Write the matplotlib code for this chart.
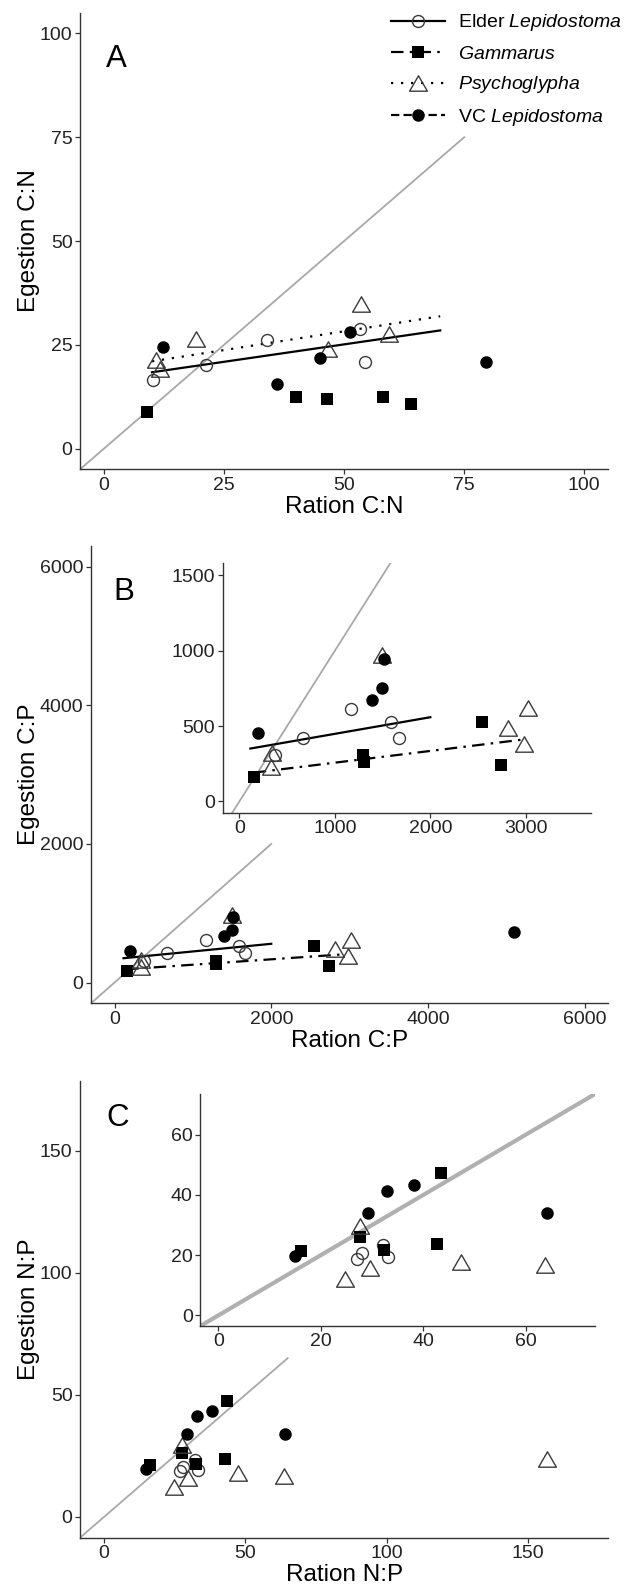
import matplotlib
matplotlib.use("Agg")
import matplotlib.pyplot as plt
from matplotlib.lines import Line2D
from matplotlib.path import Path
import numpy as np

plt.rcParams["font.family"] = ["Liberation Sans", "DejaVu Sans"]
plt.rcParams["mathtext.fontset"] = "custom"
plt.rcParams["mathtext.rm"] = "Liberation Sans"
plt.rcParams["mathtext.it"] = "Liberation Sans:italic"
plt.rcParams["lines.scale_dashes"] = False

# Datos
# Panel A: C:N
elder_cn_x = [10.1, 21.2, 34.0, 53.4, 54.4]
elder_cn_y = [16.5, 20.1, 26.1, 28.9, 20.9]
gam_cn_x = [9.0, 40.0, 46.4, 58.1, 63.9]
gam_cn_y = [8.7, 12.5, 11.9, 12.4, 10.7]
psy_cn_x = [10.9, 11.7, 19.2, 46.6, 53.6, 59.3]
psy_cn_y = [21.3, 19.1, 26.5, 24.1, 34.9, 27.6]
vc_cn_x = [12.3, 36.0, 45.0, 51.3, 79.5]
vc_cn_y = [24.4, 15.5, 21.7, 28.1, 20.9]

# Panel B: C:P
elder_cp_x = [377, 664, 1171, 1583, 1670]
elder_cp_y = [311, 421, 610, 524, 424]
gam_cp_x = [157, 1290, 1300, 2544, 2736]
gam_cp_y = [162, 305, 260, 528, 240]
psy_cp_x = [343, 332, 1496, 2813, 2980, 3022]
psy_cp_y = [318, 228, 972, 484, 380, 617]
vc_cp_x = [196, 1391, 1496, 1513, 5092]
vc_cp_y = [455, 672, 755, 943, 729]

# Panel C: N:P
elder_np_x = [27.0, 28.1, 32.1, 33.1]
elder_np_y = [18.8, 20.6, 23.3, 19.3]
gam_np_x = [16.2, 27.7, 32.4, 42.7, 43.5]
gam_np_y = [21.3, 26.1, 21.6, 23.8, 47.3]
psy_np_x = [24.8, 27.7, 29.6, 47.3, 63.7, 156.7]
psy_np_y = [12.2, 29.6, 15.8, 17.8, 16.6, 23.9]
vc_np_x = [15.0, 29.2, 32.9, 38.1, 64.1]
vc_np_y = [19.7, 34.1, 41.2, 43.2, 34.1]

# Rectas ajustadas (intercepto, pendiente, rango x)
fit_cn_elder = (16.7, 0.168, [10, 70])
fit_cn_psy = (19.2, 0.181, [10, 70])
fit_cp_elder = (338, 0.1103, [115, 2000])
fit_cp_gam = (179, 0.0779, [150, 2950])

# Limite de la linea 1:1 en los paneles principales
one_to_one_cn = 75
one_to_one_cp = 2000
one_to_one_np = 65

species = ["Elder $\\it{Lepidostoma}$", "$\\it{Gammarus}$", "$\\it{Psychoglypha}$", "VC $\\it{Lepidostoma}$"]

tri = Path([(-1, -0.866), (1, -0.866), (0, 0.866), (-1, -0.866)], closed=True)
edge = "#3a3a3a"
st_elder = dict(marker="o", ms=8.6, mfc="none", mec=edge, mew=1.0)
st_gam = dict(marker="s", ms=9.3, mfc="black", mec="black", mew=0)
st_psy = dict(marker=tri, ms=12.8, mfc="none", mec=edge, mew=1.0)
st_vc = dict(marker="o", ms=9.0, mfc="black", mec="black", mew=0)

ls_elder = "-"
ls_gam = (0, (9, 4.5, 1.8, 4.5))
ls_psy = (0, (1.6, 5.6))
ls_vc = (0, (6, 3))

grey = "#a8a8a8"
axcol = "#333333"

fig = plt.figure(figsize=(6.34, 15.92), dpi=100)


def style(ax, xlim, ylim, xticks, yticks):
    ax.set_xlim(xlim)
    ax.set_ylim(ylim)
    ax.set_xticks(xticks)
    ax.set_yticks(yticks)
    for s in ["top", "right"]:
        ax.spines[s].set_visible(False)
    for s in ["left", "bottom"]:
        ax.spines[s].set_linewidth(1.0)
        ax.spines[s].set_color(axcol)
    ax.tick_params(length=3.4, width=0.9, color=axcol, labelsize=14, labelcolor="#222222", pad=2)
    ax.patch.set_alpha(0)


def puntos(ax, xs, ys, st):
    ax.plot(xs, ys, linestyle="none", zorder=4, **st)


def recta(ax, fit, ls):
    b0, b1, xr = fit
    xr = np.array(xr, dtype=float)
    ax.plot(xr, b0 + b1 * xr, color="black", lw=1.6, linestyle=ls, zorder=3)


# ---------------- Panel A ----------------
axA = fig.add_axes([0.12618, 0.70521, 0.83328, 0.28681])
style(axA, (-5, 105), (-5, 105), [0, 25, 50, 75, 100], [0, 25, 50, 75, 100])
axA.plot([-5, one_to_one_cn], [-5, one_to_one_cn], color=grey, lw=1.3, zorder=1)
recta(axA, fit_cn_elder, ls_elder)
recta(axA, fit_cn_psy, ls_psy)
puntos(axA, elder_cn_x, elder_cn_y, st_elder)
puntos(axA, gam_cn_x, gam_cn_y, st_gam)
puntos(axA, psy_cn_x, psy_cn_y, st_psy)
puntos(axA, vc_cn_x, vc_cn_y, st_vc)
axA.set_xlabel("Ration C:N", fontsize=17.5, va="top")
axA.set_ylabel("Egestion C:N", fontsize=17.5)
axA.xaxis.set_label_coords(0.5, -0.0585)
axA.yaxis.set_label_coords(-0.0753, 0.5)
axA.text(0.0492, 0.8817, "A", transform=axA.transAxes, fontsize=22.5, ha="left", va="baseline")

# ---------------- Panel B ----------------
axB = fig.add_axes([0.14353, 0.36979, 0.81593, 0.28725])
style(axB, (-300, 6300), (-300, 6300), [0, 2000, 4000, 6000], [0, 2000, 4000, 6000])
axB.plot([-300, one_to_one_cp], [-300, one_to_one_cp], color=grey, lw=1.3, zorder=1)
recta(axB, fit_cp_elder, ls_elder)
recta(axB, fit_cp_gam, ls_gam)
puntos(axB, elder_cp_x, elder_cp_y, st_elder)
puntos(axB, gam_cp_x, gam_cp_y, st_gam)
puntos(axB, psy_cp_x, psy_cp_y, st_psy)
puntos(axB, vc_cp_x, vc_cp_y, st_vc)
axB.set_xlabel("Ration C:P", fontsize=17.5, va="top")
axB.set_ylabel("Egestion C:P", fontsize=17.5)
axB.xaxis.set_label_coords(0.5, -0.0584)
axB.yaxis.set_label_coords(-0.0982, 0.5)
axB.text(0.0431, 0.8819, "B", transform=axB.transAxes, fontsize=22.5, ha="left", va="baseline")

# recuadro B
axBi = fig.add_axes([0.35126, 0.48951, 0.58044, 0.15666])
style(axBi, (-175, 3680), (-75, 1580), [0, 1000, 2000, 3000], [0, 500, 1000, 1500])
axBi.plot([-200, 1700], [-200, 1700], color=grey, lw=1.3, zorder=1)
recta(axBi, fit_cp_elder, ls_elder)
recta(axBi, fit_cp_gam, ls_gam)
puntos(axBi, elder_cp_x, elder_cp_y, st_elder)
puntos(axBi, gam_cp_x, gam_cp_y, st_gam)
puntos(axBi, psy_cp_x, psy_cp_y, st_psy)
puntos(axBi, vc_cp_x, vc_cp_y, st_vc)

# ---------------- Panel C ----------------
axC = fig.add_axes([0.12618, 0.03411, 0.83328, 0.28687])
style(axC, (-8.5, 178.5), (-8.5, 178.5), [0, 50, 100, 150], [0, 50, 100, 150])
axC.plot([-8.5, one_to_one_np], [-8.5, one_to_one_np], color=grey, lw=1.3, zorder=1)
puntos(axC, elder_np_x, elder_np_y, st_elder)
puntos(axC, gam_np_x, gam_np_y, st_gam)
puntos(axC, psy_np_x, psy_np_y, st_psy)
puntos(axC, vc_np_x, vc_np_y, st_vc)
axC.set_xlabel("Ration N:P", fontsize=17.5, va="top")
axC.set_ylabel("Egestion N:P", fontsize=17.5)
axC.xaxis.set_label_coords(0.5, -0.0585)
axC.yaxis.set_label_coords(-0.0753, 0.5)
axC.text(0.0492, 0.9004, "C", transform=axC.transAxes, fontsize=22.5, ha="left", va="baseline")

# recuadro C
axCi = fig.add_axes([0.31593, 0.16709, 0.62256, 0.14573])
style(axCi, (-3.5, 73.5), (-3.5, 73.5), [0, 20, 40, 60], [0, 20, 40, 60])
axCi.plot([-5, 80], [-5, 80], color="#b0b0b0", lw=3.0, zorder=1, solid_capstyle="butt")
puntos(axCi, elder_np_x, elder_np_y, st_elder)
puntos(axCi, gam_np_x, gam_np_y, st_gam)
puntos(axCi, psy_np_x, psy_np_y, st_psy)
puntos(axCi, vc_np_x, vc_np_y, st_vc)

# leyenda
handles = [
    Line2D([], [], color="black", lw=1.6, linestyle=ls_elder, **st_elder),
    Line2D([], [], color="black", lw=1.6, linestyle=ls_gam, **st_gam),
    Line2D([], [], color="black", lw=1.6, linestyle=ls_psy, **st_psy),
    Line2D([], [], color="black", lw=1.6, linestyle=ls_vc, **st_vc),
]
fig.legend(handles, species, loc="upper left", bbox_to_anchor=(0.6172, 0.9922),
           frameon=False, fontsize=14, handlelength=2.75, handletextpad=0.68,
           labelspacing=0.6, borderpad=0, borderaxespad=0)

fig.savefig("out.png", dpi=100)
